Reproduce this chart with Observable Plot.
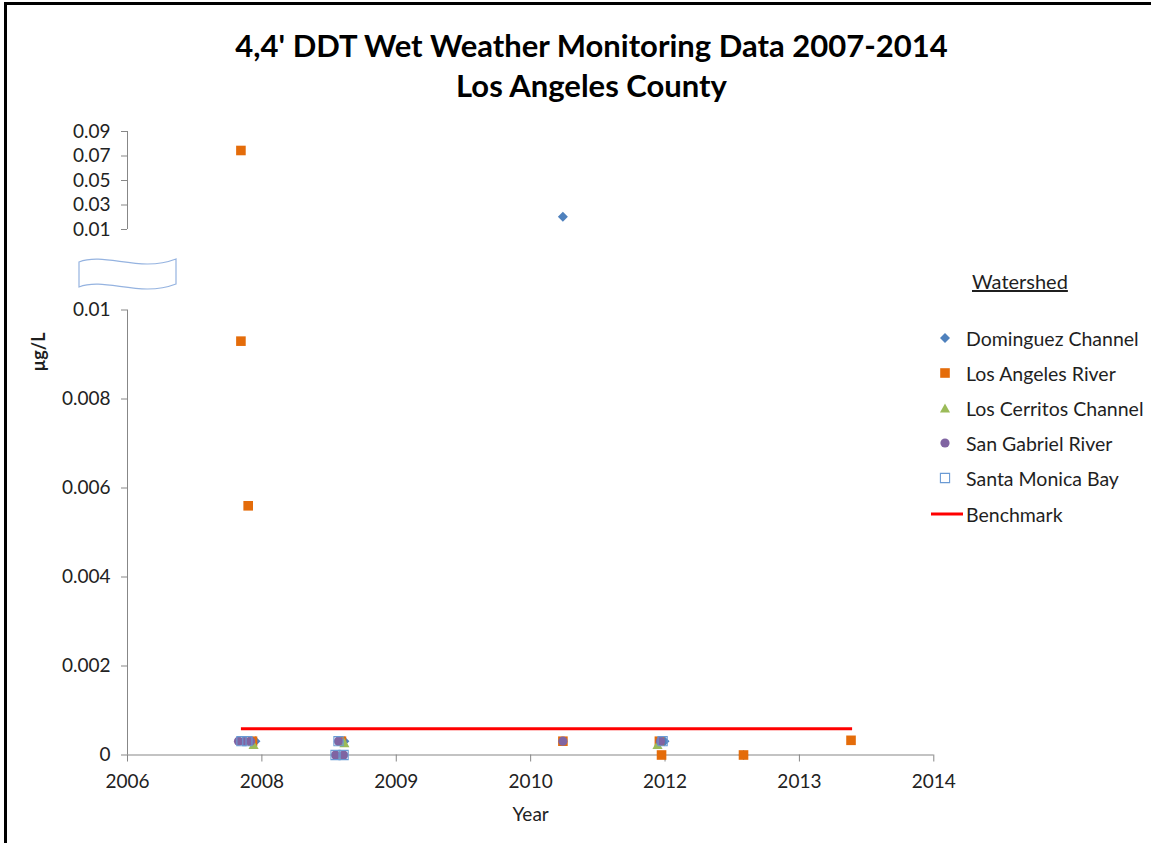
<!DOCTYPE html>
<html>
<head>
<meta charset="utf-8">
<script src="https://cdn.jsdelivr.net/npm/d3@7"></script>
<script src="https://cdn.jsdelivr.net/npm/@observablehq/plot@0.6"></script>
<style>
  body { margin: 0; background: #fff; }
  #page { position: relative; width: 1151px; height: 843px; overflow: hidden; font-family: Lato, "Open Sans", sans-serif; color: #1f1f1f; background: #fff; }
  #frame { position: absolute; left: 4px; top: 2px; width: 1300px; height: 1000px; border-left: 3px solid #000; border-top: 3px solid #000; box-sizing: border-box; }
  .title { position: absolute; left: 0; width: 1183px; text-align: center; font-weight: bold; font-size: 31px; line-height: 38px; color: #000; white-space: nowrap; }
  #upper, #lower { position: absolute; left: 0; }
  #upper { top: 110px; }
  #lower { top: 240px; }
  #ylabel { position: absolute; left: 38px; top: 352px; transform: translate(-50%, -50%) rotate(-90deg); font-size: 18px; font-weight: bold; white-space: nowrap; color: #1f1f1f; }
  #legendTitle { position: absolute; left: 972px; top: 269px; font-size: 20px; text-decoration: underline; color: #1f1f1f; white-space: nowrap; }
  .lrow { position: absolute; left: 925px; height: 30px; display: flex; align-items: center; white-space: nowrap; font-size: 19.5px; color: #1f1f1f; }
  .lrow svg { width: 40px; height: 30px; flex: none; }
  #brk { position: absolute; left: 0; top: 0; }
</style>
</head>
<body>
<div id="page">
  <div id="frame"></div>
  <div class="title" style="top:26px">4,4' DDT Wet Weather Monitoring Data 2007-2014</div>
  <div class="title" style="top:66px">Los Angeles County</div>
  <div id="upper"></div>
  <div id="lower"></div>
  <svg id="brk" width="200" height="300">
    <path d="M79,262 C105,252 140,273 176,259 L176,284 C140,298 105,277 79,287 Z" fill="#fff" stroke="#95B3E0" stroke-width="1.2"/>
  </svg>
  <div id="ylabel">µg/L</div>
  <div id="legendTitle">Watershed</div>
  <div id="legend"></div>
</div>
<script>
// ---- data ----
const seriesNames = ["Dominguez Channel", "Los Angeles River", "Los Cerritos Channel", "San Gabriel River", "Santa Monica Bay"];
const seriesColors = ["#4F81BD", "#E46C0A", "#9BBB59", "#8064A2", "#6A9AD4"];
const benchmarkName = "Benchmark";

const domDates = ["2008-01-29", "2008-12-25", "2011-03-18", "2012-03-30", "2013-01-18"];
const domValues = [0.00031, 0.00031, 0.0205, 0.00031, 0];

const laDates = ["2007-12-06", "2007-12-06", "2008-01-02", "2008-01-18", "2008-12-14", "2011-03-18", "2012-03-11", "2012-03-19", "2013-01-18", "2014-02-22"];
const laValues = [0.0745, 0.0093, 0.0056, 0.00031, 0.00031, 0.00031, 0.00031, 0, 0, 0.00033];

const lcDates = ["2008-01-22", "2008-12-07", "2008-12-25", "2012-03-04"];
const lcValues = [0.00024, 0, 0.00028, 0.00024];

const sgDates = ["2007-11-27", "2007-12-19", "2008-01-11", "2008-11-22", "2008-12-03", "2008-12-22", "2011-03-18", "2012-03-15"];
const sgValues = [0.00031, 0.00031, 0.00031, 0, 0.00031, 0, 0.00031, 0.00031];

const smbDates = ["2007-12-08", "2007-12-30", "2008-11-22", "2008-12-03", "2008-12-22", "2012-03-23"];
const smbValues = [0.00031, 0.00031, 0, 0.00031, 0, 0.00031];

const benchmarkDates = ["2007-12-06", "2014-02-26"];
const benchmarkValue = 0.00059;

// x axis (Excel date axis, labels formatted as year)
const xTickDates = ["2006-10-10", "2008-02-22", "2009-07-06", "2010-11-18", "2012-04-01", "2013-08-14", "2014-12-27"];
const lowerTicks = [0, 0.002, 0.004, 0.006, 0.008, 0.01];
const upperTicks = [0.01, 0.03, 0.05, 0.07, 0.09];
const lowerDomain = [0, 0.01];
const upperDomain = [0.01, 0.09];

// ---- build ----
const xTicks = xTickDates.map(d => new Date(d));
const xDomain = [xTicks[0], xTicks[xTicks.length - 1]];
const rows = (dates, values, s) => dates.map((d, i) => ({date: new Date(d), value: values[i], series: s}));
const allSeries = [
  rows(domDates, domValues, 0),
  rows(laDates, laValues, 1),
  rows(lcDates, lcValues, 2),
  rows(sgDates, sgValues, 3),
  rows(smbDates, smbValues, 4)
];

const rad = s => Math.sqrt(s / Math.PI);
const diamond = {draw(c, s) { const r = rad(s); c.moveTo(0, -r); c.lineTo(r, 0); c.lineTo(0, r); c.lineTo(-r, 0); c.closePath(); }};
const square = {draw(c, s) { const r = rad(s); c.rect(-r, -r, 2 * r, 2 * r); }};
const triangle = {draw(c, s) { const r = rad(s); c.moveTo(0, -r); c.lineTo(r * 1.1, r); c.lineTo(-r * 1.1, r); c.closePath(); }};
const circle = {draw(c, s) { const r = rad(s); c.moveTo(r, 0); c.arc(0, 0, r, 0, 2 * Math.PI); c.closePath(); }};
const symbols = [diamond, square, triangle, circle, square];
const radii = [5, 4.8, 4.6, 4.6, 4.6];

function seriesMarks(filter) {
  return allSeries.map((data, s) => {
    const d = data.filter(filter);
    if (s === 4) {
      return Plot.dot(d, {x: "date", y: "value", symbol: symbols[s], r: radii[s], fill: "none", stroke: seriesColors[s], strokeWidth: 1.1});
    }
    return Plot.dot(d, {x: "date", y: "value", symbol: symbols[s], r: radii[s], fill: seriesColors[s], stroke: "none"});
  });
}

const fmt = v => String(Math.round(v * 10000) / 10000);
const axisColor = "#878787";
const textColor = "#222222";
const left = 127, right = 933.3;
const W = 1151;

const upper = Plot.plot({
  width: W, height: 130,
  marginLeft: left, marginRight: W - right, marginTop: 21, marginBottom: 11,
  style: {fontFamily: "Lato, sans-serif", fontSize: "19px", background: "transparent", overflow: "visible"},
  x: {type: "utc", domain: xDomain, axis: null},
  y: {domain: upperDomain},
  marks: [
    Plot.ruleX([xDomain[0]], {y1: upperDomain[0], y2: upperDomain[1], stroke: axisColor}),
    Plot.axisY({ticks: upperTicks, tickFormat: fmt, tickSize: 6, tickPadding: 11, stroke: axisColor, fill: textColor, label: null}),
    ...seriesMarks(d => d.value > 0.01)
  ]
});
document.getElementById("upper").append(upper);

const lower = Plot.plot({
  width: W, height: 603,
  marginLeft: left, marginRight: W - right, marginTop: 69.5, marginBottom: 88.5,
  style: {fontFamily: "Lato, sans-serif", fontSize: "19px", background: "transparent", overflow: "visible"},
  x: {type: "utc", domain: xDomain},
  y: {domain: lowerDomain},
  marks: [
    Plot.ruleX([xDomain[0]], {y1: lowerDomain[0], y2: lowerDomain[1], stroke: axisColor}),
    Plot.ruleY([0], {stroke: axisColor}),
    Plot.axisY({ticks: lowerTicks, tickFormat: fmt, tickSize: 6, tickPadding: 11, stroke: axisColor, fill: textColor, label: null}),
    Plot.axisX({ticks: xTicks, tickFormat: d => String(d.getUTCFullYear()), tickSize: 7, tickPadding: 12, stroke: axisColor, fill: textColor,
      label: "Year", labelAnchor: "center", labelArrow: "none", labelOffset: 66}),
    ...seriesMarks(d => d.value <= 0.01),
    Plot.line(benchmarkDates.map(d => ({date: new Date(d), value: benchmarkValue})),
      {x: "date", y: "value", stroke: "#FF0000", strokeWidth: 3, strokeLinecap: "butt"})
  ]
});
document.getElementById("lower").append(lower);

// ---- legend ----
const legend = document.getElementById("legend");
const legendTops = [323, 358, 393, 428, 463, 499];
const ns = "http://www.w3.org/2000/svg";
seriesNames.forEach((name, s) => {
  const row = document.createElement("div");
  row.className = "lrow";
  row.style.top = legendTops[s] + "px";
  const svg = document.createElementNS(ns, "svg");
  const p = d3.path();
  symbols[s].draw(p, Math.PI * radii[s] * radii[s]);
  const path = document.createElementNS(ns, "path");
  path.setAttribute("d", p.toString());
  path.setAttribute("transform", "translate(20,15)");
  if (s === 4) { path.setAttribute("fill", "none"); path.setAttribute("stroke", seriesColors[s]); path.setAttribute("stroke-width", "1.1"); }
  else path.setAttribute("fill", seriesColors[s]);
  svg.append(path);
  row.append(svg);
  const t = document.createElement("span");
  t.style.marginLeft = "1px";
  t.textContent = name;
  row.append(t);
  legend.append(row);
});
{
  const row = document.createElement("div");
  row.className = "lrow";
  row.style.top = legendTops[5] + "px";
  row.style.left = "928px";
  const svg = document.createElementNS(ns, "svg");
  svg.setAttribute("width", "38");
  svg.style.width = "38px";
  const ln = document.createElementNS(ns, "line");
  ln.setAttribute("x1", 3); ln.setAttribute("x2", 35); ln.setAttribute("y1", 15); ln.setAttribute("y2", 15);
  ln.setAttribute("stroke", "#FF0000"); ln.setAttribute("stroke-width", 3);
  svg.append(ln);
  row.append(svg);
  const t = document.createElement("span");
  t.textContent = benchmarkName;
  row.append(t);
  legend.append(row);
}
</script>
</body>
</html>
